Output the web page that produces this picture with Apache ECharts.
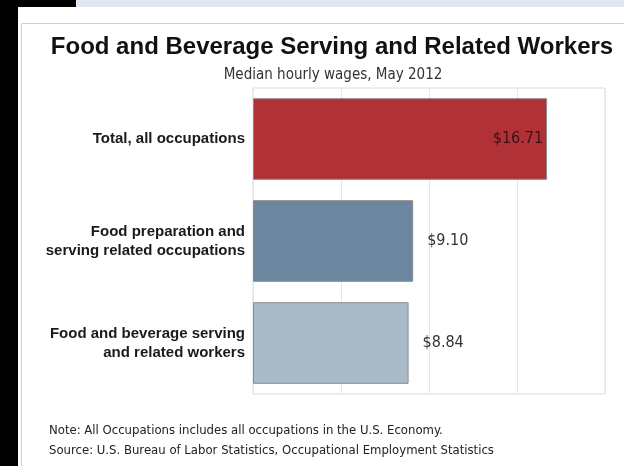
<!DOCTYPE html>
<html>
<head>
<meta charset="utf-8">
<script src="https://cdn.jsdelivr.net/npm/echarts@6/dist/echarts.min.js"></script>
<style>
  html, body { margin: 0; padding: 0; background: #ffffff; }
  #chart { width: 624px; height: 466px; }
</style>
</head>
<body>
<div id="chart"></div>
<script>
// Occupation groups, top to bottom
const categories = [
  'Total, all occupations',
  'Food preparation and\nserving related occupations',
  'Food and beverage serving\nand related workers'
];
// Median hourly wage in dollars, May 2012
const wages = [16.71, 9.10, 8.84];
const barColors = ['#b13236', '#6b869e', '#a9bac8'];

const titleText = 'Food and Beverage Serving and Related Workers';
const subtitleText = 'Median hourly wages, May 2012';
const noteText = 'Note: All Occupations includes all occupations in the U.S. Economy.';
const sourceText = 'Source: U.S. Bureau of Labor Statistics, Occupational Employment Statistics';

const bodyFont = '"DejaVu Sans Condensed", "DejaVu Sans", sans-serif';
const boldFont = '"Liberation Sans", Arial, sans-serif';

const chart = echarts.init(document.getElementById('chart'), null, { renderer: 'canvas' });

chart.setOption({
  backgroundColor: '#ffffff',
  animation: false,
  graphic: [
    // page frame: dark edge, pale band, card outline
    { type: 'rect', shape: { x: 0, y: 0, width: 18, height: 466 }, style: { fill: '#000' }, z: 0 },
    { type: 'rect', shape: { x: 0, y: 0, width: 76, height: 7 }, style: { fill: '#000' }, z: 0 },
    { type: 'rect', shape: { x: 76, y: 0, width: 548, height: 7 }, style: { fill: '#dfe6f1' }, z: 0 },
    { type: 'polyline', shape: { points: [[21.5, 470], [21.5, 23.5], [630, 23.5]] },
      style: { stroke: '#cfcfcf', lineWidth: 1, fill: null }, z: 0 },
    { type: 'text', left: 49, top: 424,
      style: { text: noteText, font: '13px ' + bodyFont, fill: '#222' } },
    { type: 'text', left: 49, top: 444,
      style: { text: sourceText, font: '13px ' + bodyFont, fill: '#222' } }
  ],
  title: [
    { text: titleText, left: 327, top: 30, textAlign: 'center',
      textStyle: { fontFamily: boldFont, fontWeight: 'bold', fontSize: 24, color: '#111' } },
    { text: subtitleText, left: 328, top: 63, textAlign: 'center',
      textStyle: { fontFamily: bodyFont, fontWeight: 'normal', fontSize: 15, color: '#333' } }
  ],
  grid: {
    left: 253, top: 88, right: 19, bottom: 72,
    show: true, borderColor: '#dcdcdc', borderWidth: 1, backgroundColor: 'transparent'
  },
  xAxis: {
    type: 'value', min: 0, max: 20, interval: 5,
    axisLine: { show: false }, axisTick: { show: false }, axisLabel: { show: false },
    splitLine: { show: true, lineStyle: { color: '#e6e6e6', width: 1 } }
  },
  yAxis: {
    type: 'category', data: categories, inverse: true,
    axisLine: { show: false }, axisTick: { show: false },
    axisLabel: {
      margin: 8, align: 'right',
      fontFamily: boldFont, fontWeight: 'bold', fontSize: 15, lineHeight: 19, color: '#1a1a1a'
    }
  },
  series: [{
    type: 'bar',
    data: wages.map((v, i) => ({
      value: v,
      itemStyle: { color: barColors[i] },
      label: i === 0
        ? { position: 'insideRight', distance: 4, color: '#3a1414' }
        : { position: 'right', distance: 14, color: '#333' }
    })),
    barCategoryGap: '20%',
    itemStyle: { borderColor: '#8a8a8a', borderWidth: 1 },
    label: {
      show: true,
      fontFamily: bodyFont, fontSize: 16,
      formatter: p => '$' + p.value.toFixed(2)
    }
  }]
});
</script>
</body>
</html>
